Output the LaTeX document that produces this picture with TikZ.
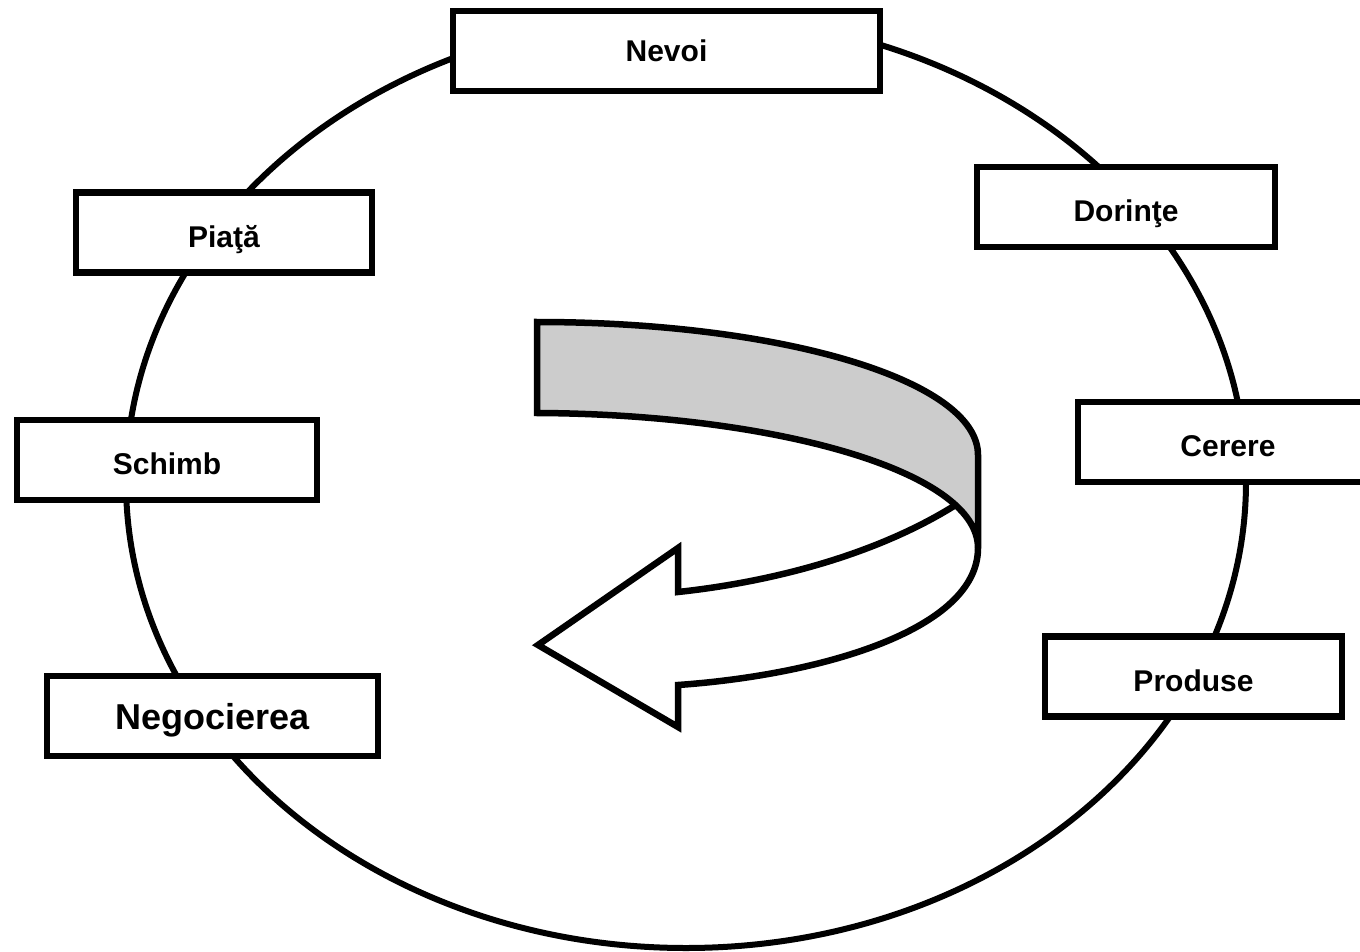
\documentclass[tikz,border=0pt]{standalone}
\usepackage{fontspec}
\setmainfont{Liberation Sans}
\begin{document}
\begin{tikzpicture}[x=1pt,y=-1pt,
  lbl/.style={draw=black, line width=6.5pt, fill=white, rectangle, minimum height=80pt, inner sep=0pt,
    text height=29.5pt, text depth=0pt, font=\fontsize{30}{32}\selectfont\bfseries},
  ring/.style={draw=black, line width=6pt},
  band/.style={draw=black, line width=6.5pt}]
\clip (0,0) rectangle (1360,952);
\fill[white] (0,0) rectangle (1360,952);
% ring
\draw[ring] (686,482) ellipse [x radius=560pt, y radius=466pt];
% boxes
\node[lbl, minimum width=427pt, text height=21.5pt] (nevoi) at (666.5,51) {Nevoi};
\node[lbl, minimum width=298pt] (dorinte) at (1126,207) {Dorinţe};
\node[lbl, minimum width=300pt] (cerere) at (1228,442) {Cerere};
\node[lbl, minimum width=297pt] (produse) at (1193.5,676.5) {Produse};
\node[lbl, minimum width=296pt] (piata) at (224,232.5) {Piaţă};
\node[lbl, minimum width=300pt] (schimb) at (167,460) {Schimb};
\node[lbl, minimum width=331pt, text height=26pt, font=\fontsize{36}{40}\selectfont\bfseries] (negocierea) at (212.5,716) {Negocierea};
% curved arrow
\coordinate (cross) at (954,506);
\coordinate (tip) at (538,645);
\coordinate (bend) at (978,548);
\fill[white]
  (cross) .. controls (880,552) and (780,581) .. (678,592)
  -- (678,548) -- (tip) -- (678,727) -- (678,685)
  .. controls (820,675) and (978,630) .. (bend) -- cycle;
\draw[band, line join=miter, miter limit=10]
  (cross) .. controls (880,552) and (780,581) .. (678,592)
  -- (678,548) -- (tip) -- (678,727) -- (678,685)
  .. controls (820,675) and (978,630) .. (bend);
\filldraw[band, fill={rgb,255:red,204;green,204;blue,204}, line join=miter]
  (537,322) .. controls (780,322) and (978,380) .. (978,455)
  -- (bend)
  .. controls (978,470) and (770,414) .. (537,413) -- cycle;
\end{tikzpicture}
\end{document}
